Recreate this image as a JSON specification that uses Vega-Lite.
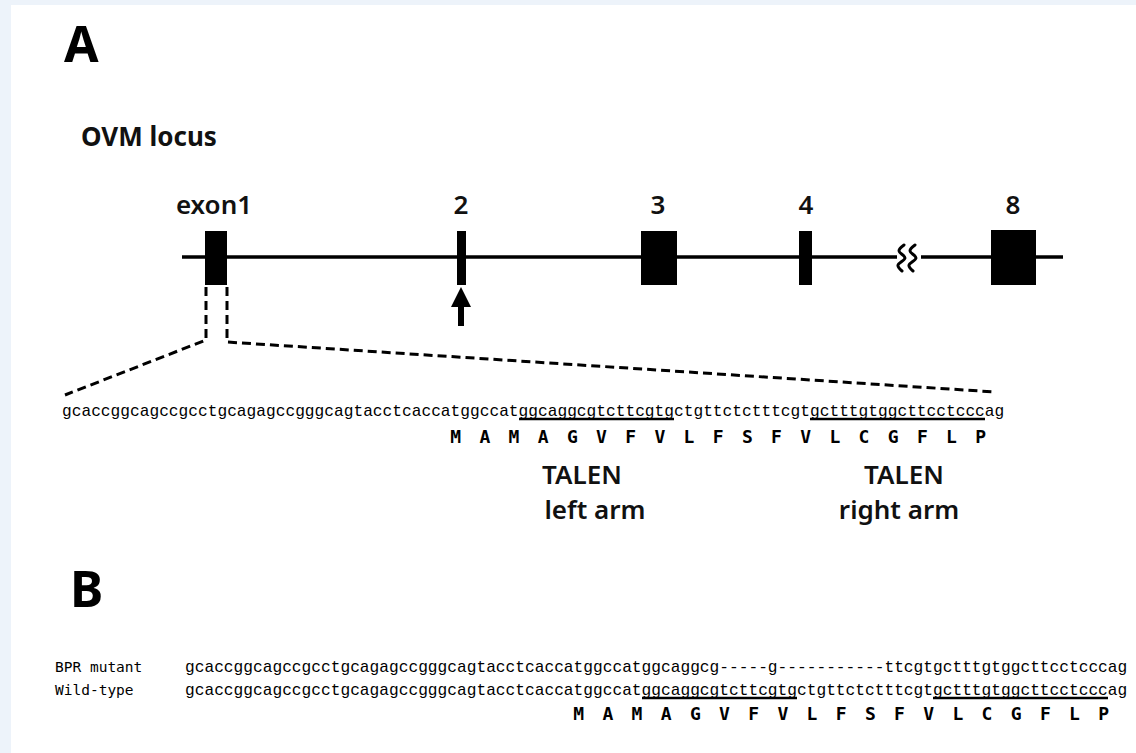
{
  "$schema": "https://vega.github.io/schema/vega-lite/v6.json",
  "width": 1136,
  "height": 753,
  "padding": 0,
  "autosize": {"type": "none"},
  "background": "#ffffff",
  "config": {"view": {"stroke": null}},
  "datasets": {
    "frame": [
      {"part": "top band", "x": 0, "x2": 1136, "y": 0, "y2": 5},
      {"part": "left band", "x": 0, "x2": 11, "y": 0, "y2": 753}
    ],
    "backbone": [
      {"seg": "exon1-4", "x": 182, "x2": 897, "y": 257},
      {"seg": "to exon8", "x": 921, "x2": 1063, "y": 257}
    ],
    "exons": [
      {"exon": "1", "x": 205, "x2": 227, "y": 231, "y2": 285},
      {"exon": "2", "x": 457, "x2": 466, "y": 231, "y2": 285},
      {"exon": "3", "x": 641, "x2": 677, "y": 231, "y2": 285},
      {"exon": "4", "x": 799, "x2": 812, "y": 231, "y2": 285},
      {"exon": "8", "x": 991, "x2": 1036, "y": 230, "y2": 285}
    ],
    "squiggle": [
      {"id": "s1", "ord": 1, "x": 904, "y": 245},
      {"id": "s1", "ord": 2, "x": 899, "y": 251},
      {"id": "s1", "ord": 3, "x": 905, "y": 258},
      {"id": "s1", "ord": 4, "x": 898, "y": 265},
      {"id": "s1", "ord": 5, "x": 902, "y": 271},
      {"id": "s2", "ord": 1, "x": 915, "y": 245},
      {"id": "s2", "ord": 2, "x": 910, "y": 251},
      {"id": "s2", "ord": 3, "x": 916, "y": 258},
      {"id": "s2", "ord": 4, "x": 909, "y": 265},
      {"id": "s2", "ord": 5, "x": 913, "y": 271}
    ],
    "zoom": [
      {"id": "left", "ord": 1, "x": 206, "y": 287},
      {"id": "left", "ord": 2, "x": 206, "y": 340},
      {"id": "left", "ord": 3, "x": 65, "y": 395},
      {"id": "right", "ord": 1, "x": 227, "y": 287},
      {"id": "right", "ord": 2, "x": 227, "y": 342},
      {"id": "right", "ord": 3, "x": 995, "y": 392}
    ],
    "arrowShaft": [{"x": 461, "y": 303, "y2": 326}],
    "arrowHead": [{"x": 461, "y": 297}],
    "underlines": [
      {"panel": "A", "arm": "left", "x": 519, "x2": 674, "y": 419},
      {"panel": "A", "arm": "right", "x": 810, "x2": 985, "y": 419},
      {"panel": "B", "arm": "left", "x": 642, "x2": 797, "y": 698},
      {"panel": "B", "arm": "right", "x": 933, "x2": 1108, "y": 698}
    ],
    "panelLetters": [
      {"label": "A", "x": 64, "y": 62},
      {"label": "B", "x": 70, "y": 607}
    ],
    "heading": [{"label": "OVM locus", "x": 81, "y": 146}],
    "exonLabels": [
      {"label": "exon1", "x": 214, "y": 214},
      {"label": "2", "x": 461, "y": 214},
      {"label": "3", "x": 658, "y": 214},
      {"label": "4", "x": 806, "y": 214},
      {"label": "8", "x": 1013, "y": 214}
    ],
    "talen": [
      {"label": "TALEN", "x": 582, "y": 484},
      {"label": "left arm", "x": 595, "y": 519},
      {"label": "TALEN", "x": 904, "y": 484},
      {"label": "right arm", "x": 899, "y": 519}
    ],
    "sequences": [
      {"row": "A exon1", "x": 62, "y": 416, "label": "gcaccggcagccgcctgcagagccgggcagtacctcaccatggccatggcaggcgtcttcgtgctgttctctttcgtgctttgtggcttcctcccag"},
      {"row": "BPR mutant", "x": 185, "y": 672, "label": "gcaccggcagccgcctgcagagccgggcagtacctcaccatggccatggcaggcg-----g-----------ttcgtgctttgtggcttcctcccag"},
      {"row": "Wild-type", "x": 185, "y": 695, "label": "gcaccggcagccgcctgcagagccgggcagtacctcaccatggccatggcaggcgtcttcgtgctgttctctttcgtgctttgtggcttcctcccag"}
    ],
    "aminoAcids": [
      {"panel": "A", "aa": "M", "x": 455.7, "y": 443},
      {"panel": "A", "aa": "A", "x": 484.8, "y": 443},
      {"panel": "A", "aa": "M", "x": 514.0, "y": 443},
      {"panel": "A", "aa": "A", "x": 543.2, "y": 443},
      {"panel": "A", "aa": "G", "x": 572.3, "y": 443},
      {"panel": "A", "aa": "V", "x": 601.5, "y": 443},
      {"panel": "A", "aa": "F", "x": 630.7, "y": 443},
      {"panel": "A", "aa": "V", "x": 659.8, "y": 443},
      {"panel": "A", "aa": "L", "x": 689.0, "y": 443},
      {"panel": "A", "aa": "F", "x": 718.2, "y": 443},
      {"panel": "A", "aa": "S", "x": 747.3, "y": 443},
      {"panel": "A", "aa": "F", "x": 776.5, "y": 443},
      {"panel": "A", "aa": "V", "x": 805.6, "y": 443},
      {"panel": "A", "aa": "L", "x": 834.8, "y": 443},
      {"panel": "A", "aa": "C", "x": 864.0, "y": 443},
      {"panel": "A", "aa": "G", "x": 893.1, "y": 443},
      {"panel": "A", "aa": "F", "x": 922.3, "y": 443},
      {"panel": "A", "aa": "L", "x": 951.5, "y": 443},
      {"panel": "A", "aa": "P", "x": 980.6, "y": 443},
      {"panel": "B", "aa": "M", "x": 578.7, "y": 720},
      {"panel": "B", "aa": "A", "x": 607.8, "y": 720},
      {"panel": "B", "aa": "M", "x": 637.0, "y": 720},
      {"panel": "B", "aa": "A", "x": 666.2, "y": 720},
      {"panel": "B", "aa": "G", "x": 695.3, "y": 720},
      {"panel": "B", "aa": "V", "x": 724.5, "y": 720},
      {"panel": "B", "aa": "F", "x": 753.7, "y": 720},
      {"panel": "B", "aa": "V", "x": 782.8, "y": 720},
      {"panel": "B", "aa": "L", "x": 812.0, "y": 720},
      {"panel": "B", "aa": "F", "x": 841.2, "y": 720},
      {"panel": "B", "aa": "S", "x": 870.3, "y": 720},
      {"panel": "B", "aa": "F", "x": 899.5, "y": 720},
      {"panel": "B", "aa": "V", "x": 928.6, "y": 720},
      {"panel": "B", "aa": "L", "x": 957.8, "y": 720},
      {"panel": "B", "aa": "C", "x": 987.0, "y": 720},
      {"panel": "B", "aa": "G", "x": 1016.1, "y": 720},
      {"panel": "B", "aa": "F", "x": 1045.3, "y": 720},
      {"panel": "B", "aa": "L", "x": 1074.5, "y": 720},
      {"panel": "B", "aa": "P", "x": 1103.6, "y": 720}
    ],
    "sampleLabels": [
      {"label": "BPR mutant", "x": 55, "y": 672},
      {"label": "Wild-type", "x": 55, "y": 695}
    ]
  },
  "encoding": {
    "x": {"field": "x", "type": "quantitative", "scale": {"domain": [0, 1136], "nice": false, "zero": false}, "axis": null},
    "y": {"field": "y", "type": "quantitative", "scale": {"domain": [0, 753], "nice": false, "zero": false, "reverse": true}, "axis": null}
  },
  "layer": [
    {
      "data": {"name": "frame"},
      "mark": {"type": "rect", "color": "#edf3fa"},
      "encoding": {"x2": {"field": "x2"}, "y2": {"field": "y2"}}
    },
    {
      "data": {"name": "backbone"},
      "mark": {"type": "rule", "color": "#000000", "strokeWidth": 3.5},
      "encoding": {"x2": {"field": "x2"}}
    },
    {
      "data": {"name": "squiggle"},
      "mark": {"type": "line", "color": "#000000", "strokeWidth": 3, "interpolate": "cardinal", "strokeCap": "round"},
      "encoding": {"detail": {"field": "id"}, "order": {"field": "ord"}}
    },
    {
      "data": {"name": "exons"},
      "mark": {"type": "rect", "color": "#000000"},
      "encoding": {"x2": {"field": "x2"}, "y2": {"field": "y2"}}
    },
    {
      "data": {"name": "zoom"},
      "mark": {"type": "line", "color": "#000000", "strokeWidth": 3, "strokeDash": [9, 5], "strokeCap": "butt"},
      "encoding": {"detail": {"field": "id"}, "order": {"field": "ord"}}
    },
    {
      "data": {"name": "arrowShaft"},
      "mark": {"type": "rule", "color": "#000000", "strokeWidth": 6},
      "encoding": {"y2": {"field": "y2"}}
    },
    {
      "data": {"name": "arrowHead"},
      "mark": {"type": "point", "shape": "M 0 -1 L 1 1 L -1 1 Z", "size": 400, "filled": true, "color": "#000000", "opacity": 1}
    },
    {
      "data": {"name": "underlines"},
      "mark": {"type": "rule", "color": "#000000", "strokeWidth": 2.5},
      "encoding": {"x2": {"field": "x2"}}
    },
    {
      "data": {"name": "panelLetters"},
      "mark": {"type": "text", "font": "Noto Sans", "fontWeight": "bold", "fontSize": 50, "align": "left", "baseline": "alphabetic", "color": "#000000"},
      "encoding": {"text": {"field": "label"}}
    },
    {
      "data": {"name": "heading"},
      "mark": {"type": "text", "font": "Noto Sans", "fontWeight": "bold", "fontSize": 26, "align": "left", "baseline": "alphabetic", "color": "#111111"},
      "encoding": {"text": {"field": "label"}}
    },
    {
      "data": {"name": "exonLabels"},
      "mark": {"type": "text", "font": "Noto Sans", "fontWeight": 600, "fontSize": 26, "align": "center", "baseline": "alphabetic", "color": "#111111"},
      "encoding": {"text": {"field": "label"}}
    },
    {
      "data": {"name": "talen"},
      "mark": {"type": "text", "font": "Noto Sans", "fontWeight": 600, "fontSize": 26, "align": "center", "baseline": "alphabetic", "color": "#111111"},
      "encoding": {"text": {"field": "label"}}
    },
    {
      "data": {"name": "sequences"},
      "mark": {"type": "text", "font": "Liberation Mono", "fontSize": 16.2, "align": "left", "baseline": "alphabetic", "color": "#000000"},
      "encoding": {"text": {"field": "label"}}
    },
    {
      "data": {"name": "aminoAcids"},
      "mark": {"type": "text", "font": "DejaVu Sans Mono", "fontWeight": "bold", "fontSize": 18, "align": "center", "baseline": "alphabetic", "color": "#000000"},
      "encoding": {"text": {"field": "aa"}}
    },
    {
      "data": {"name": "sampleLabels"},
      "mark": {"type": "text", "font": "DejaVu Sans Mono", "fontSize": 14.5, "align": "left", "baseline": "alphabetic", "color": "#000000"},
      "encoding": {"text": {"field": "label"}}
    }
  ]
}
